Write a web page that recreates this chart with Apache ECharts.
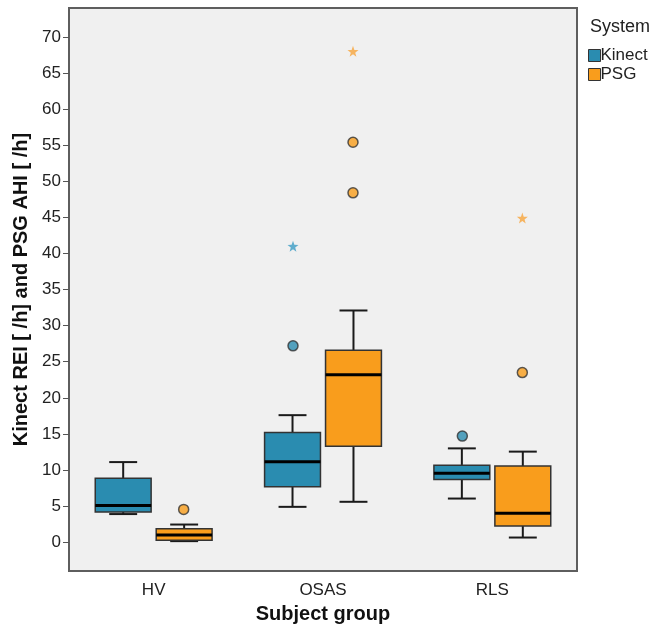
<!DOCTYPE html>
<html>
<head>
<meta charset="utf-8">
<script src="https://cdn.jsdelivr.net/npm/echarts@6/dist/echarts.min.js"></script>
<style>
  html, body { margin: 0; padding: 0; background: #fff; }
  #main { width: 653px; height: 629px; }
</style>
</head>
<body>
<div id="main"></div>
<script>
// groups on the x axis
var groups = ['HV', 'OSAS', 'RLS'];
var yTicks = [0, 5, 10, 15, 20, 25, 30, 35, 40, 45, 50, 55, 60, 65, 70];

// [group, min, q1, median, q3, max]
var kinectBox = [
  [0, 3.9, 4.2, 5.1, 8.85, 11.1],
  [1, 4.9, 7.7, 11.15, 15.2, 17.6],
  [2, 6.05, 8.7, 9.55, 10.65, 13.0]
];
var psgBox = [
  [0, 0.15, 0.28, 1.0, 1.85, 2.45],
  [1, 5.6, 13.3, 23.2, 26.6, 32.1],
  [2, 0.65, 2.25, 4.0, 10.55, 12.55]
];
// outliers (circles) and extremes (stars)
var kinectOut = [[1, 27.2], [2, 14.7]];
var kinectExt = [[1, 41.0]];
var psgOut = [[0, 4.55], [1, 55.4], [1, 48.4], [2, 23.5]];
var psgExt = [[1, 68.0], [2, 44.9]];

var KINECT = '#2a8cb0';
var PSG = '#f99d1c';
var FONT = '"Liberation Sans", Arial, sans-serif';
var STAR = 'path://M0,-10L2.35,-3.24L9.51,-3.09L3.8,1.24L5.88,8.09L0,4L-5.88,8.09L-3.8,1.24L-9.51,-3.09L-2.35,-3.24Z';

function boxRenderer(side) {
  return function (params, api) {
    var cat = api.value(0);
    var band = api.size([1, 0])[0];
    var cx = api.coord([cat, 0])[0] + side * band * 0.18;
    var w = band * 0.33, cap = w / 4;
    var y = [1, 2, 3, 4, 5].map(function (i) { return api.coord([cat, api.value(i)])[1]; });
    var color = api.visual('color');
    var line = { stroke: '#1a1a1a', lineWidth: 2 };
    return {
      type: 'group',
      children: [
        { type: 'line', shape: { x1: cx, y1: y[0], x2: cx, y2: y[1] }, style: line },
        { type: 'line', shape: { x1: cx, y1: y[3], x2: cx, y2: y[4] }, style: line },
        { type: 'line', shape: { x1: cx - cap, y1: y[0], x2: cx + cap, y2: y[0] }, style: line },
        { type: 'line', shape: { x1: cx - cap, y1: y[4], x2: cx + cap, y2: y[4] }, style: line },
        { type: 'rect', shape: { x: cx - w / 2, y: y[3], width: w, height: y[1] - y[3] },
          style: { fill: color, stroke: '#333', lineWidth: 1.5 } },
        { type: 'line', shape: { x1: cx - w / 2, y1: y[2], x2: cx + w / 2, y2: y[2] },
          style: { stroke: '#000', lineWidth: 3 } }
      ]
    };
  };
}

var chart = echarts.init(document.getElementById('main'));
chart.setOption({
  animation: false,
  backgroundColor: '#fff',
  textStyle: { fontFamily: FONT },
  title: {
    text: 'System', left: 585, top: 13,
    textStyle: { fontSize: 18, fontWeight: 'normal', color: '#222', fontFamily: FONT }
  },
  legend: {
    orient: 'vertical', left: 583, top: 42,
    itemWidth: 12, itemHeight: 12, itemGap: 2,
    textStyle: { fontSize: 17, color: '#222', lineHeight: 17, padding: [0, 0, 0, -5] },
    data: [
      { name: 'Kinect', icon: 'rect', itemStyle: { color: KINECT, borderColor: '#333', borderWidth: 1 } },
      { name: 'PSG', icon: 'rect', itemStyle: { color: PSG, borderColor: '#333', borderWidth: 1 } }
    ]
  },
  grid: {
    left: 69, right: 76, top: 8, bottom: 57,
    show: true, backgroundColor: '#f0f0f0', borderColor: '#5e5e5e', borderWidth: 2
  },
  xAxis: {
    type: 'category', data: groups,
    name: 'Subject group', nameLocation: 'middle', nameGap: 32,
    nameTextStyle: { fontSize: 20, fontWeight: 'bold', color: '#111' },
    axisLine: { onZero: false, lineStyle: { color: '#5e5e5e', width: 2 } },
    axisTick: { alignWithLabel: true, length: 6, lineStyle: { color: '#555' } },
    axisLabel: { fontSize: 17, color: '#222', margin: 11 }
  },
  yAxis: {
    type: 'value', min: -4, max: 74,
    name: 'Kinect REI [ /h] and PSG AHI [ /h]', nameLocation: 'middle', nameGap: 30,
    nameTextStyle: { fontSize: 20, fontWeight: 'bold', color: '#111' },
    axisLine: { show: true, lineStyle: { color: '#5e5e5e', width: 2 } },
    axisTick: { show: true, length: 6, customValues: yTicks, lineStyle: { color: '#555' } },
    axisLabel: { fontSize: 17, color: '#222', margin: 8, customValues: yTicks },
    splitLine: { show: false }
  },
  series: [
    { name: 'Kinect', type: 'custom', renderItem: boxRenderer(-1),
      itemStyle: { color: KINECT }, encode: { x: 0, y: [1, 2, 3, 4, 5] }, data: kinectBox },
    { name: 'PSG', type: 'custom', renderItem: boxRenderer(1),
      itemStyle: { color: PSG }, encode: { x: 0, y: [1, 2, 3, 4, 5] }, data: psgBox },
    { name: 'Kinect', type: 'scatter', data: kinectOut, symbol: 'circle', symbolSize: 10,
      symbolOffset: [-30, 0], itemStyle: { color: KINECT, borderColor: '#333', borderWidth: 1.5 } },
    { name: 'Kinect', type: 'scatter', data: kinectExt, symbol: STAR,
      symbolSize: 11, symbolOffset: [-30, 0], itemStyle: { color: '#3c9cc4' } },
    { name: 'PSG', type: 'scatter', data: psgOut, symbol: 'circle', symbolSize: 10,
      symbolOffset: [30, 0], itemStyle: { color: PSG, borderColor: '#333', borderWidth: 1.5 } },
    { name: 'PSG', type: 'scatter', data: psgExt, symbol: STAR,
      symbolSize: 11, symbolOffset: [30, 0], itemStyle: { color: '#f8a53c' } }
  ]
});
</script>
</body>
</html>
